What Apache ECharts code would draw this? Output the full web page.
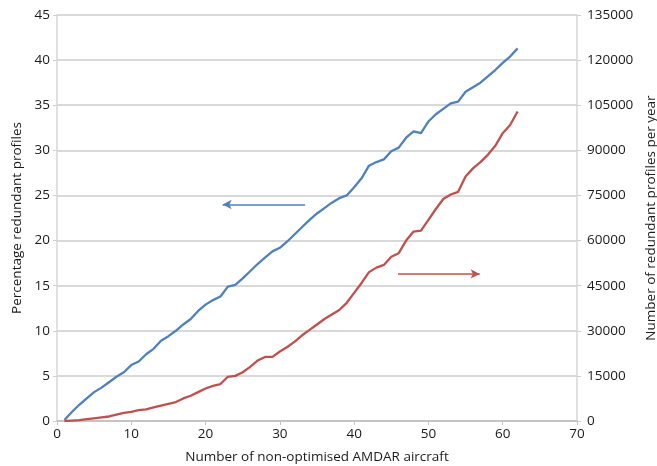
<!DOCTYPE html>
<html>
<head>
<meta charset="utf-8">
<script src="https://cdn.jsdelivr.net/npm/echarts@6/dist/echarts.min.js"></script>
<style>
html,body{margin:0;padding:0;background:#fff;}
#chart{width:657px;height:466px;}
</style>
</head>
<body>
<div id="chart"></div>
<script>
// Number of non-optimised AMDAR aircraft
var aircraft = [1,2,3,4,5,6,7,8,9,10,11,12,13,14,15,16,17,18,19,20,21,22,23,24,25,26,27,28,29,30,31,32,33,34,35,36,37,38,39,40,41,42,43,44,45,46,47,48,49,50,51,52,53,54,55,56,57,58,59,60,61,62];
// Percentage redundant profiles (left axis)
var pctRedundant = [0.1,1.0,1.8,2.5,3.2,3.7,4.3,4.9,5.4,6.2,6.6,7.4,8.0,8.9,9.4,10.0,10.7,11.3,12.2,12.9,13.4,13.8,14.9,15.1,15.8,16.6,17.4,18.1,18.8,19.2,19.9,20.7,21.5,22.3,23.0,23.6,24.2,24.7,25.0,25.9,26.9,28.3,28.7,29.0,29.9,30.3,31.4,32.1,31.9,33.2,34.0,34.6,35.2,35.4,36.5,37.0,37.5,38.2,38.9,39.7,40.4,41.3];
// Number of redundant profiles per year (right axis)
var profilesPerYear = [0,150,300,600,900,1200,1500,2100,2700,3000,3600,3900,4500,5100,5700,6300,7500,8400,9600,10800,11700,12300,14700,15000,16200,18000,20100,21300,21300,23100,24600,26400,28500,30300,32100,33900,35400,36900,39300,42600,45900,49500,51000,51900,54600,55800,60000,63000,63300,66900,70500,73800,75300,76200,81300,84000,86100,88500,91500,95700,98400,102900];
// Annotation arrows: [fromX, toX, y]
var leftArrow = [33.4, 22.3, 24.0];
var rightArrow = [45.9, 56.9, 48900];

var blue = '#4f81bd', red = '#c0504d';
var fontFam = '"Open Sans", "Noto Sans", sans-serif';
var gridCol = '#cdcdcd';
var txt = '#1a1a1a';

function pairs(xs, ys){ return xs.map(function(x,i){ return [x, ys[i]]; }); }

var chart = echarts.init(document.getElementById('chart'));
chart.setOption({
  animation: false,
  backgroundColor: '#fff',
  textStyle: {fontFamily: fontFam, color: txt},
  grid: {left: 57, right: 80, top: 15, bottom: 45, containLabel: false, outerBoundsMode: 'none'},
  xAxis: {
    type: 'value', min: 0, max: 70, interval: 10,
    name: 'Number of non-optimised AMDAR aircraft',
    nameLocation: 'middle', nameGap: 29,
    nameTextStyle: {fontSize: 13.5, color: txt, fontFamily: fontFam},
    axisLine: {show: true, onZero: false, lineStyle: {color: '#c4c4c4', width: 2}},
    axisTick: {show: true, length: 4, lineStyle: {color: '#c4c4c4'}},
    axisLabel: {fontSize: 13.5, color: txt, margin: 6, fontFamily: fontFam},
    splitLine: {show: false}
  },
  yAxis: [{
    type: 'value', min: 0, max: 45, interval: 5, position: 'left',
    name: 'Percentage redundant profiles',
    nameLocation: 'middle', nameGap: 32, nameRotate: 90,
    nameTextStyle: {fontSize: 13.5, color: txt, fontFamily: fontFam},
    axisLine: {show: true, lineStyle: {color: '#d6d6d6', width: 1.5}},
    axisTick: {show: true, length: 4, lineStyle: {color: '#cfcfcf'}},
    axisLabel: {fontSize: 13.5, color: txt, margin: 7, fontFamily: fontFam},
    splitLine: {show: true, lineStyle: {color: gridCol, width: 1.5}}
  }, {
    type: 'value', min: 0, max: 135000, interval: 15000, position: 'right',
    name: 'Number of redundant profiles per year',
    nameLocation: 'middle', nameGap: 67, nameRotate: 90,
    nameTextStyle: {fontSize: 13.5, color: txt, fontFamily: fontFam},
    axisLine: {show: true, lineStyle: {color: '#d6d6d6', width: 1.5}},
    axisTick: {show: true, length: 4, lineStyle: {color: '#cfcfcf'}},
    axisLabel: {fontSize: 13.5, color: txt, margin: 10, fontFamily: fontFam,
      formatter: function(v){ return String(v); }},
    splitLine: {show: false}
  }],
  series: [{
    type: 'line', yAxisIndex: 0, data: pairs(aircraft, pctRedundant),
    showSymbol: false, symbol: 'none',
    lineStyle: {color: blue, width: 2.3}, itemStyle: {color: blue},
    markLine: {
      silent: true, symbol: ['none', 'arrow'], symbolSize: [7, 9],
      label: {show: false},
      lineStyle: {color: blue, width: 1.5, type: 'solid'},
      data: [[{coord: [leftArrow[0], leftArrow[2]]}, {coord: [leftArrow[1], leftArrow[2]]}]]
    }
  }, {
    type: 'line', yAxisIndex: 1, data: pairs(aircraft, profilesPerYear),
    showSymbol: false, symbol: 'none',
    lineStyle: {color: red, width: 2.3}, itemStyle: {color: red},
    markLine: {
      silent: true, symbol: ['none', 'arrow'], symbolSize: [7, 9],
      label: {show: false},
      lineStyle: {color: red, width: 1.5, type: 'solid'},
      data: [[{coord: [rightArrow[0], rightArrow[2]]}, {coord: [rightArrow[1], rightArrow[2]]}]]
    }
  }]
});
</script>
</body>
</html>
